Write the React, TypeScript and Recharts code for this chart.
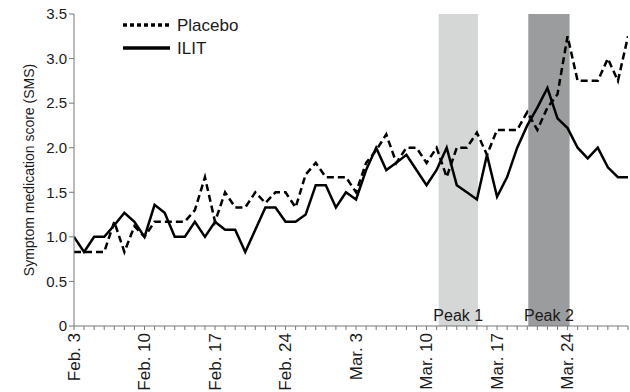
import { LineChart, Line, XAxis, YAxis, ReferenceArea } from 'recharts';

// daily values, Feb. 3 (day 0) to Mar. 30 (day 55)
const PLACEBO = [
  0.83, 0.83, 0.83, 0.83, 1.17, 0.83, 1.12, 1.0, 1.17, 1.17,
  1.17, 1.17, 1.3, 1.67, 1.17, 1.5, 1.33, 1.33, 1.5, 1.38,
  1.5, 1.5, 1.33, 1.7, 1.83, 1.67, 1.67, 1.67, 1.5, 1.83,
  1.97, 2.15, 1.83, 2.0, 2.0, 1.83, 2.0, 1.67, 2.0, 2.0,
  2.17, 1.92, 2.2, 2.2, 2.2, 2.4, 2.2, 2.45, 2.6, 3.25,
  2.75, 2.75, 2.75, 3.0, 2.75, 3.25,
];

const ILIT = [
  1.0, 0.83, 1.0, 1.0, 1.13, 1.27, 1.17, 1.0, 1.36, 1.27,
  1.0, 1.0, 1.17, 1.0, 1.17, 1.08, 1.08, 0.83, 1.08, 1.33,
  1.33, 1.17, 1.17, 1.25, 1.58, 1.58, 1.33, 1.5, 1.42, 1.75,
  2.0, 1.75, 1.83, 1.92, 1.75, 1.58, 1.75, 2.0, 1.58, 1.5,
  1.42, 1.92, 1.45, 1.67, 2.0, 2.25, 2.45, 2.67, 2.33, 2.22,
  2.0, 1.88, 2.0, 1.78, 1.67, 1.67,
];

const DATE_TICKS = [0, 7, 14, 21, 28, 35, 42, 49];
const DATE_LABELS = ['Feb. 3', 'Feb. 10', 'Feb. 17', 'Feb. 24', 'Mar. 3', 'Mar. 10', 'Mar. 17', 'Mar. 24'];
const Y_TICKS = [0, 0.5, 1, 1.5, 2, 2.5, 3, 3.5];
const Y_LABELS = ['0', '0.5', '1.0', '1.5', '2.0', '2.5', '3.0', '3.5'];

const PEAKS = [
  { name: 'Peak 1', from: 36.2, to: 40.1, fill: '#d5d6d6' },
  { name: 'Peak 2', from: 45.1, to: 49.2, fill: '#9a9c9d' },
];

const data = PLACEBO.map((p, i) => ({ day: i, placebo: p, ilit: ILIT[i] }));
const allDays = PLACEBO.map((_, i) => i);

const FONT = '"Liberation Sans", Arial, sans-serif';

function DateTick(props: any) {
  const { x, y, payload } = props;
  const idx = DATE_TICKS.indexOf(payload.value);
  if (idx < 0) return <g />;
  const ty = y + 1;
  return (
    <text
      x={x}
      y={ty}
      transform={`rotate(-90, ${x}, ${ty})`}
      textAnchor="end"
      dominantBaseline="central"
      fontSize={17}
      fill="#1a1a1a"
      fontFamily={FONT}
    >
      {DATE_LABELS[idx]}
    </text>
  );
}

function LegendBox() {
  return (
    <svg width={150} height={54} style={{ fontFamily: FONT, position: 'absolute', left: 122, top: 13 }}>
      <line x1={1} y1={12} x2={48} y2={12} stroke="#000" strokeWidth={3.5} strokeDasharray="4 3" />
      <text x={55} y={12} dominantBaseline="central" fontSize={17} fill="#1a1a1a">Placebo</text>
      <line x1={1} y1={35} x2={48} y2={35} stroke="#000" strokeWidth={3.5} />
      <text x={55} y={35} dominantBaseline="central" fontSize={17} fill="#1a1a1a">ILIT</text>
    </svg>
  );
}

export default function App() {
  return (
    <div style={{ width: 630, height: 392, background: '#fff', position: 'relative', overflow: 'hidden' }}>
      <style>{`body{margin:0;}`}</style>
      <LineChart width={630} height={392} data={data} margin={{ top: 14, right: 2, bottom: 0, left: 14 }}>
        {PEAKS.map((pk) => (
          <ReferenceArea
            key={pk.name}
            x1={pk.from}
            x2={pk.to}
            y1={0}
            y2={3.5}
            fill={pk.fill}
            fillOpacity={1}
            stroke="none"
            ifOverflow="visible"
            label={{ value: pk.name, position: 'insideBottom', offset: 5, fontSize: 16, fill: '#1a1a1a', fontFamily: FONT }}
          />
        ))}
        <XAxis
          dataKey="day"
          type="number"
          domain={[0, 55]}
          ticks={allDays}
          interval={0}
          height={66}
          tickSize={4}
          tick={<DateTick />}
          stroke="#777"
          tickLine={{ stroke: '#777' }}
          allowDataOverflow
        />
        <YAxis
          type="number"
          domain={[0, 3.5]}
          ticks={Y_TICKS}
          interval={0}
          width={60}
          tickSize={5}
          tickFormatter={(v: number) => Y_LABELS[Y_TICKS.indexOf(v)]}
          tick={{ fontSize: 15, fill: '#1a1a1a', fontFamily: FONT }}
          stroke="#777"
          label={{
            value: 'Symptom medication score (SMS)',
            angle: -90,
            position: 'center',
            dx: -15,
            fontSize: 14,
            fill: '#1a1a1a',
            fontFamily: FONT,
          }}
        />
        <Line
          type="linear"
          dataKey="placebo"
          name="Placebo"
          stroke="#000"
          strokeWidth={2.5}
          strokeDasharray="7 4"
          dot={false}
          isAnimationActive={false}
        />
        <Line
          type="linear"
          dataKey="ilit"
          name="ILIT"
          stroke="#000"
          strokeWidth={2.5}
          dot={false}
          isAnimationActive={false}
        />
      </LineChart>
      <LegendBox />
    </div>
  );
}
